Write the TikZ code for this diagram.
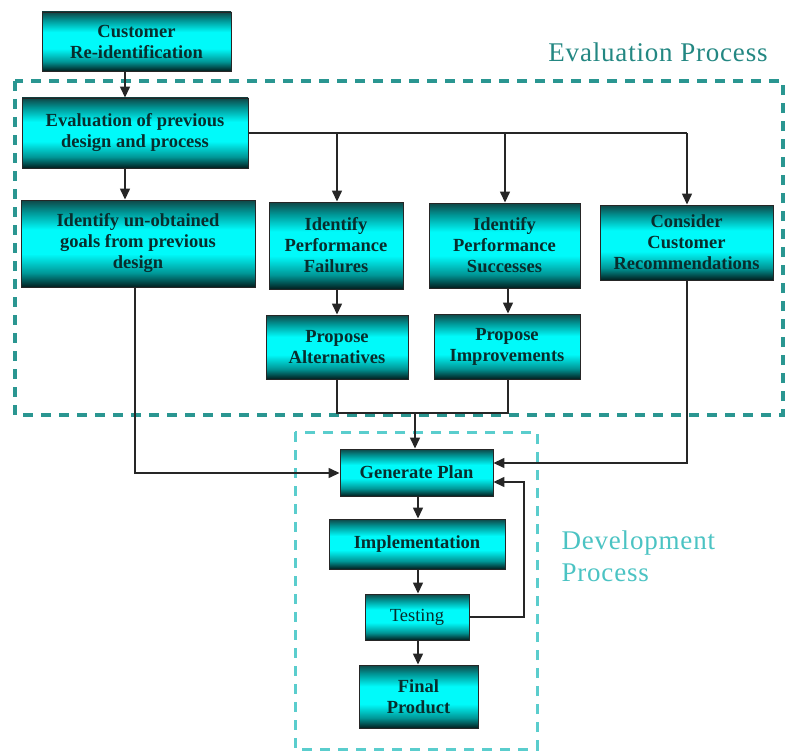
\documentclass[tikz,border=0pt]{standalone}
\usepackage{fontspec}
\setmainfont{Liberation Serif}
\usetikzlibrary{arrows.meta}
\definecolor{boxtxt}{RGB}{8,45,45}
\definecolor{evalc}{RGB}{42,150,145}
\definecolor{devc}{RGB}{90,205,205}
\definecolor{evtxt}{RGB}{35,135,130}
\definecolor{dvtxt}{RGB}{75,195,195}
\definecolor{sdk}{RGB}{2,30,30}
\definecolor{sdk2}{RGB}{15,70,70}
\definecolor{smid}{RGB}{0,150,150}
\definecolor{scy}{RGB}{0,250,250}
\pgfdeclareverticalshading{boxshade}{100bp}{color(0bp)=(sdk); color(25bp)=(sdk); color(33bp)=(smid); color(44bp)=(scy); color(58bp)=(scy); color(68bp)=(smid); color(75bp)=(sdk2); color(100bp)=(sdk2)}
\tikzset{
  box/.style={draw=black!85, line width=0.9pt, shading=boxshade, text=boxtxt, align=center,
    font=\fontsize{18.5}{21}\selectfont\bfseries, inner sep=2pt},
  arr/.style={draw=black!85, line width=1.4pt, -{Triangle[length=11pt,width=10pt]}},
  ln/.style={draw=black!85, line width=1.4pt},
  evbox/.style={draw=evalc, line width=3.4pt, dash pattern=on 10pt off 8pt},
  dvbox/.style={draw=devc, line width=3pt, dash pattern=on 10pt off 8pt},
}
\begin{document}
\begin{tikzpicture}[x=1pt,y=-1pt]
\useasboundingbox (0,0) rectangle (788,752);
% dashed process frames
\draw[evbox] (15,81) rectangle (783,415);
\draw[dvbox] (295,432) rectangle (537,749);
\node[text=evtxt, font=\fontsize{27}{30}\selectfont\addfontfeature{LetterSpace=3}, anchor=base] (evlab) at (658,62) {Evaluation Process};
\node[text=dvtxt, font=\fontsize{27}{32}\selectfont\addfontfeature{LetterSpace=3}, align=left, anchor=west] (dvlab) at (558,556) {Development\\Process};
% nodes
\node[box, minimum width=189pt, minimum height=59pt] (cre) at (136.5,41.5) {Customer\\Re-identification};
\node[box, minimum width=226pt, minimum height=70pt] (eval) at (135,133) {Evaluation of previous\\design and process};
\node[box, minimum width=234pt, minimum height=87pt] (unob) at (138,243.5) {Identify un-obtained\\goals from previous\\design};
\node[box, minimum width=134pt, minimum height=87pt] (fail) at (336,245.5) {Identify\\Performance\\Failures};
\node[box, minimum width=151pt, minimum height=85pt] (succ) at (504.5,245.5) {Identify\\Performance\\Successes};
\node[box, minimum width=173pt, minimum height=75pt] (cons) at (686.5,242.5) {Consider\\Customer\\Recommendations};
\node[box, minimum width=142pt, minimum height=64pt] (alt) at (337,347) {Propose\\Alternatives};
\node[box, minimum width=146pt, minimum height=65pt] (impv) at (507,346.5) {Propose\\Improvements};
\node[box, minimum width=153pt, minimum height=47pt] (gen) at (416.5,472.5) {Generate Plan};
\node[box, minimum width=176pt, minimum height=50pt] (impl) at (417,544) {Implementation};
\node[box, minimum width=104pt, minimum height=46pt, font=\fontsize{18.5}{21}\selectfont] (test) at (417,617) {Testing};
\node[box, minimum width=119pt, minimum height=63pt] (fin) at (418.5,696.5) {Final\\Product};
% helper coordinates
\coordinate (x125) at (125,0);
\coordinate (x135) at (135,0);
\coordinate (x337) at (337,0);
\coordinate (x505) at (505,0);
\coordinate (x508) at (508,0);
\coordinate (x687) at (687,0);
\coordinate (x415) at (415,0);
\coordinate (x418) at (418,0);
\coordinate (x524) at (524,0);
\coordinate (y463) at (0,463);
\coordinate (y473) at (0,473);
\coordinate (y482) at (0,482);
\coordinate (j) at (415,413);
% connectors
\draw[arr] (cre.south -| x125) -- (eval.north -| x125);
\draw[arr] (eval.south -| x125) -- (unob.north -| x125);
\draw[ln] (eval.east) -- (eval.east -| x687);
\draw[arr] (eval.east -| x337) -- (fail.north -| x337);
\draw[arr] (eval.east -| x505) -- (succ.north -| x505);
\draw[arr] (eval.east -| x687) -- (cons.north -| x687);
\draw[arr] (fail.south -| x337) -- (alt.north -| x337);
\draw[arr] (succ.south -| x508) -- (impv.north -| x508);
\draw[ln] (alt.south -| x337) |- (j);
\draw[ln] (impv.south -| x508) |- (j);
\draw[arr] (j) -- (gen.north -| x415);
\draw[arr] (unob.south -| x135) |- (gen.west |- y473);
\draw[arr] (cons.south -| x687) |- (gen.east |- y463);
\draw[arr] (test.east) -| (x524 |- y482) -- (gen.east |- y482);
\draw[arr] (gen.south -| x418) -- (impl.north -| x418);
\draw[arr] (impl.south -| x418) -- (test.north -| x418);
\draw[arr] (test.south -| x418) -- (fin.north -| x418);
\end{tikzpicture}
\end{document}
